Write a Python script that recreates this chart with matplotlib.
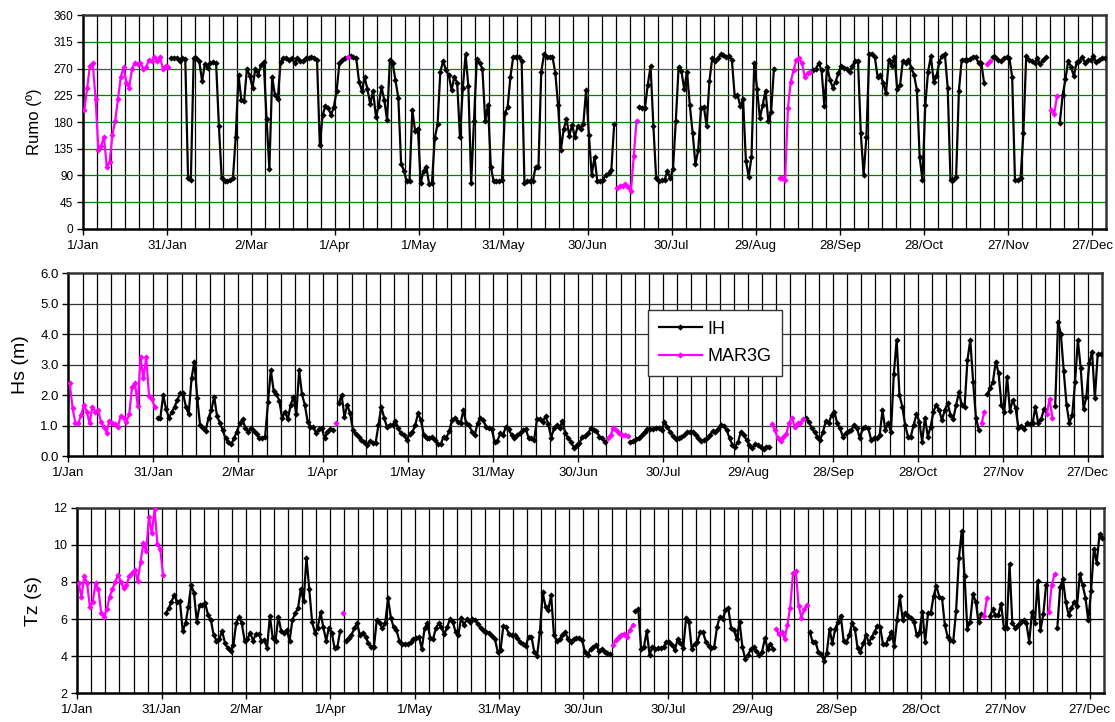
import numpy as np
import matplotlib
matplotlib.use("Agg")
import matplotlib.pyplot as plt
from matplotlib.ticker import FormatStrFormatter

plt.rcParams['font.family'] = ['Liberation Sans', 'DejaVu Sans']

# ---- data: daily values, given as (first day of year, values) runs ----
n_days = 365
tick_days = [0, 30, 60, 90, 120, 150, 180, 210, 240, 270, 300, 330, 360]
tick_labels = ['1/Jan', '31/Jan', '2/Mar', '1/Apr', '1/May', '31/May', '30/Jun',
               '30/Jul', '29/Aug', '28/Sep', '28/Oct', '27/Nov', '27/Dec']

# wave direction (degrees)
rumo_ih = [
    (31, [288, 288, 288, 283, 288, 286, 85, 83, 287, 288, 282, 249, 278, 271, 279, 281,
          279, 173, 85, 80, 80, 83, 85, 155, 259, 217, 215, 270, 258, 238, 270, 260,
          276, 281, 185, 101, 256, 225, 219, 281, 288, 288, 285, 288, 279, 288, 283,
          283, 287, 288, 290, 288, 285, 141, 192, 207, 204, 192, 205, 233, 279, 285, 288]),
    (95, [291, 289, 287, 248, 233, 255, 235, 210, 233, 189, 207, 239, 217, 183, 285, 279,
          250, 221, 110, 98, 80, 81, 200, 165, 169, 77, 98, 105, 75, 77, 153, 176,
          265, 283, 267, 259, 234, 256, 246, 154, 237, 294, 240, 78, 181, 286, 279, 270,
          182, 209, 105, 80, 80, 80, 82, 195, 205, 256, 290, 290, 290, 283, 78, 80,
          80, 80, 105, 105, 265, 294, 290, 290, 290, 263, 208, 133, 168, 185, 157, 175,
          155, 173, 169, 176, 234, 158, 91, 121, 80, 80, 83, 91, 94, 99, 176]),
    (198, [206, 204, 204, 243, 274, 173, 85, 81, 82, 82, 98, 85, 101, 182, 273, 266,
           235, 265, 208, 162, 109, 133, 204, 206, 173, 249, 288, 283, 287, 294, 293, 290,
           291, 285, 224, 226, 207, 218, 115, 88, 121, 280, 235, 186, 209, 233, 182, 197, 270]),
    (260, [268, 270, 279, 267, 207, 273, 251, 238, 248, 262, 275, 271, 269, 264, 275, 283,
           283, 161, 91, 155, 295, 295, 289, 256, 259, 245, 229, 285, 275, 290, 235, 242,
           283, 279, 285, 271, 259, 234, 121, 82, 209, 265, 291, 248, 257, 281, 292, 294,
           237, 82, 82, 88, 233, 285, 285, 285, 286, 290, 290, 279, 279, 245]),
    (324, [290, 290, 284, 282, 287, 289, 287, 256, 82, 82, 85, 161, 291, 285, 283, 279,
           287, 277, 285, 289]),
    (348, [179, 225, 252, 283, 273, 257, 281, 283, 289, 280, 284, 285, 291, 281, 285, 287, 287]),
]
rumo_mar3g = [
    (0, [200, 237, 275, 279, 219, 133, 140, 155, 104, 112, 158, 182, 219, 256, 272, 246,
         238, 270, 280, 277, 279, 270, 272, 284, 282, 289, 283, 289, 270, 274, 272]),
    (94, [290]),
    (190, [69, 72, 73, 75, 71, 64, 122, 182]),
    (248, [85, 85, 82, 203, 248, 267, 284, 288, 279, 256, 263, 265]),
    (322, [277, 282]),
    (345, [200, 194, 224]),
]

# significant wave height (m)
hs_ih = [
    (31, [1.26, 1.26, 2.00, 1.54, 1.26, 1.43, 1.62, 1.84, 2.06, 2.06, 1.62, 1.37, 2.55,
          3.10, 1.92, 1.02, 0.91, 0.83, 1.26, 1.51, 1.95, 1.31, 1.09, 0.85, 0.58, 0.47,
          0.38, 0.58, 0.80, 1.07, 1.20, 0.93, 0.80, 0.91, 0.83, 0.71, 0.60, 0.60, 0.64,
          1.76, 2.82, 2.14, 2.03, 1.81, 1.24, 1.46, 1.20, 1.68, 1.95, 1.37, 2.82, 2.03,
          1.68, 1.13, 0.96, 0.96, 0.74, 0.89, 0.91, 0.58, 0.80, 0.89, 0.85]),
    (95, [1.73, 2.00, 1.29, 1.68, 1.40, 0.85, 0.72, 0.64, 0.53, 0.47, 0.36, 0.49, 0.42,
          0.42, 1.02, 1.62, 1.26, 0.96, 1.02, 1.02, 1.16, 0.91, 0.74, 0.69, 0.53, 0.72,
          0.78, 1.02, 1.40, 1.18, 0.69, 0.58, 0.58, 0.64, 0.53, 0.38, 0.38, 0.64, 0.60,
          0.82, 1.18, 1.26, 1.13, 1.07, 1.51, 1.07, 1.02, 0.80, 0.69, 1.07, 1.26, 1.18,
          0.96, 0.91, 0.89, 0.47, 0.49, 0.74, 0.69, 0.96, 0.89, 0.69, 0.60, 0.69, 0.74,
          0.85, 0.89, 0.60, 0.58, 0.53, 1.22, 1.22, 1.13, 1.31, 1.04, 0.60, 0.91, 1.02,
          0.91, 1.16, 0.74, 0.60, 0.47, 0.27, 0.36, 0.42, 0.64, 0.67, 0.74, 0.91, 0.85,
          0.82, 0.64, 0.60, 0.47]),
    (198, [0.47, 0.49, 0.55, 0.60, 0.69, 0.80, 0.89, 0.89, 0.88, 0.93, 0.91, 0.85, 1.13,
           0.94, 0.80, 0.66, 0.56, 0.58, 0.61, 0.69, 0.78, 0.80, 0.80, 0.69, 0.58, 0.50,
           0.51, 0.58, 0.69, 0.82, 0.80, 0.89, 1.02, 1.00, 0.85, 0.58, 0.36, 0.31, 0.47,
           0.80, 0.69, 0.53, 0.36, 0.25, 0.38, 0.36, 0.28, 0.22, 0.31, 0.31]),
    (260, [1.24, 1.13, 0.91, 0.78, 0.64, 0.53, 0.80, 1.15, 1.07, 1.35, 1.46, 1.07, 0.91,
           0.64, 0.74, 0.82, 0.85, 1.02, 0.91, 0.58, 0.91, 0.94, 0.91, 0.53, 0.58, 0.58,
           0.69, 1.51, 0.85, 1.07, 0.80, 2.69, 3.81, 2.00, 1.62, 1.02, 0.64, 0.64, 1.02,
           1.37, 1.13, 0.47, 1.26, 0.64, 0.96, 1.46, 1.68, 1.51, 1.18, 1.51, 1.73, 1.35,
           1.22, 1.68, 2.09, 1.68, 1.62, 3.15, 3.81, 2.44, 1.26, 0.85]),
    (324, [2.03, 2.22, 2.44, 3.10, 2.72, 1.68, 1.43, 2.61, 1.48, 1.84, 1.57, 0.93, 1.00,
           0.89, 1.07, 1.04, 1.07, 1.62, 1.07, 1.20, 1.54]),
    (348, [1.65, 4.41, 4.00, 2.79, 1.68, 1.07, 1.35, 2.42, 3.81, 2.88, 1.54, 1.95, 3.04,
           3.43, 1.89, 3.35, 3.35]),
]
hs_mar3g = [
    (0, [2.39, 1.57, 1.07, 1.07, 1.35, 1.68, 1.46, 1.07, 1.62, 1.46, 1.51, 1.13, 0.96,
         0.77, 1.16, 1.09, 1.04, 0.96, 1.32, 1.26, 1.13, 1.37, 2.26, 2.41, 1.65, 3.24,
         2.55, 3.24, 1.97, 1.86, 1.62]),
    (94, [1.07]),
    (190, [0.58, 0.69, 0.93, 0.85, 0.75, 0.69, 0.69, 0.66]),
    (248, [1.04, 0.85, 0.58, 0.49, 0.64, 0.71, 1.07, 1.26, 0.96, 1.07, 1.07, 1.22]),
    (322, [1.07, 1.46]),
    (345, [1.37, 1.87, 1.26]),
]

# zero-crossing period (s)
tz_ih = [
    (31, [6.31, 6.58, 6.94, 7.30, 6.90, 6.97, 5.36, 5.77, 6.67, 7.83, 7.42, 5.86, 6.76,
          6.76, 6.85, 6.22, 5.95, 5.14, 4.84, 4.93, 5.36, 4.73, 4.42, 4.28, 4.60, 5.77,
          6.13, 5.77, 4.84, 4.91, 5.27, 4.84, 5.18, 5.18, 4.84, 4.85, 4.46, 6.17, 4.96,
          4.84, 6.13, 5.36, 5.27, 5.41, 4.84, 5.95, 6.31, 6.58, 7.62, 6.97, 9.31, 7.60,
          5.86, 5.27, 5.54, 6.36, 5.55, 4.84, 5.54, 5.27, 4.42, 4.51, 5.38]),
    (95, [4.84, 5.00, 5.14, 5.50, 5.77, 5.14, 5.27, 5.05, 4.69, 4.51, 4.51, 5.95, 5.77,
          5.50, 5.77, 7.12, 6.08, 5.55, 5.41, 4.84, 4.66, 4.66, 4.66, 4.75, 4.93, 5.00,
          5.05, 4.39, 5.50, 5.77, 5.00, 4.93, 5.50, 5.77, 5.55, 5.18, 5.55, 6.00, 5.86,
          5.32, 5.14, 6.08, 5.68, 6.00, 5.86, 6.00, 5.95, 5.72, 5.50, 5.36, 5.30, 5.23,
          5.11, 4.93, 4.24, 4.33, 5.63, 5.55, 5.18, 5.14, 5.14, 4.96, 4.78, 4.66, 4.57,
          5.05, 5.05, 4.24, 4.03, 5.29, 7.44, 6.67, 6.49, 7.30, 5.14, 4.84, 4.93, 5.14,
          5.32, 4.91, 4.75, 4.93, 4.96, 5.00, 4.87, 4.24, 4.06, 4.39, 4.51, 4.60, 4.28,
          4.39, 4.24, 4.15, 4.10]),
    (198, [6.43, 6.54, 4.39, 4.51, 5.36, 4.06, 4.51, 4.39, 4.42, 4.42, 4.51, 4.78, 4.78,
           4.60, 4.33, 4.93, 4.69, 4.46, 6.08, 5.86, 4.39, 4.66, 4.78, 5.29, 5.29, 4.78,
           4.57, 4.42, 4.51, 5.59, 6.13, 6.00, 6.49, 6.58, 5.54, 5.41, 4.93, 5.86, 4.51,
           3.85, 4.06, 4.39, 4.51, 4.28, 4.06, 4.24, 4.96, 4.39, 4.64, 4.39]),
    (260, [5.29, 4.75, 4.78, 4.24, 4.10, 3.76, 4.15, 5.47, 4.69, 5.47, 5.86, 6.18, 4.84,
           4.75, 5.14, 5.77, 5.47, 4.42, 4.24, 4.69, 5.14, 4.73, 5.02, 5.32, 5.63, 5.57,
           4.64, 4.64, 4.96, 5.32, 4.55, 5.95, 7.24, 5.95, 6.31, 6.18, 6.08, 5.86, 5.14,
           5.32, 6.40, 4.78, 6.31, 6.31, 7.24, 7.80, 7.21, 7.12, 5.68, 5.05, 4.87, 4.84,
           6.43, 9.27, 10.74, 8.32, 5.47, 5.86, 7.33, 6.94, 5.82, 6.27]),
    (324, [6.15, 6.52, 6.20, 6.20, 6.83, 5.52, 5.52, 8.98, 5.77, 5.54, 5.68, 5.86, 5.95,
           5.77, 4.78, 6.36, 5.77, 8.05, 5.41, 6.25, 7.83]),
    (348, [5.54, 7.73, 8.14, 6.92, 6.22, 6.58, 6.94, 6.70, 8.41, 7.82, 7.16, 5.93, 7.51,
           9.80, 9.04, 10.57, 10.39]),
]
tz_mar3g = [
    (0, [7.92, 7.21, 8.32, 7.92, 6.63, 6.94, 7.92, 7.60, 6.34, 6.13, 6.52, 7.21, 7.60,
         8.01, 8.37, 8.01, 7.66, 7.83, 8.32, 8.50, 8.64, 8.05, 9.09, 10.08, 9.67, 11.52,
         10.62, 11.93, 10.04, 9.77, 8.37]),
    (94, [6.31]),
    (190, [4.60, 4.87, 5.05, 5.14, 5.18, 5.05, 5.41, 5.68]),
    (248, [5.47, 5.18, 5.29, 4.93, 5.68, 6.61, 8.46, 8.59, 6.72, 6.08, 6.54, 6.76]),
    (322, [6.18, 7.15]),
    (345, [6.38, 7.83, 8.42]),
]


def to_series(segments):
    arr = np.full(n_days, np.nan)
    for start, vals in segments:
        arr[start:start + len(vals)] = vals
    return arr


def draw_panel(ax, ih, mar, ylim, ystep, ylabel, hcolor, ylab_size, ytick_size, fmt):
    x = np.arange(n_days) + 0.5
    ax.plot(x, to_series(ih), color='black', lw=1.6, marker='D', ms=3.2,
            mew=0, label='IH', zorder=4)
    ax.plot(x, to_series(mar), color='#FF00FF', lw=1.6, marker='D', ms=3.2,
            mew=0, label='MAR3G', zorder=4)
    ax.set_xlim(0, 365)
    ax.set_ylim(*ylim)
    ax.set_yticks(np.arange(ylim[0], ylim[1] + ystep / 2, ystep))
    ax.yaxis.set_major_formatter(FormatStrFormatter(fmt))
    # vertical grid every 5 days, horizontal grid at y ticks
    for d in range(5, 365, 5):
        ax.axvline(d, color='black', lw=0.9, zorder=1)
    for yv in np.arange(ylim[0] + ystep, ylim[1], ystep):
        ax.axhline(yv, color=hcolor, lw=0.9, zorder=1)
    ax.set_xticks(tick_days)
    ax.set_xticklabels(tick_labels, fontsize=9.5)
    ax.tick_params(axis='x', direction='out', length=4, width=1, pad=4)
    ax.tick_params(axis='y', direction='out', length=4, width=1, labelsize=ytick_size, pad=3)
    ax.set_ylabel(ylabel, fontsize=ylab_size, labelpad=8)
    for side in ['left', 'bottom']:
        ax.spines[side].set_linewidth(1.8)
        ax.spines[side].set_color('black')
    for side in ['top', 'right']:
        ax.spines[side].set_linewidth(1.8)
        ax.spines[side].set_color('#333333')


fig = plt.figure(figsize=(11.15, 7.22), dpi=100)

ax1 = fig.add_axes([0.0744, 0.683, 0.9176, 0.296])
draw_panel(ax1, rumo_ih, rumo_mar3g, (0, 360), 45, 'Rumo (º)', '#008000', 12, 8.5, '%d')

ax2 = fig.add_axes([0.0613, 0.3684, 0.9270, 0.2531])
draw_panel(ax2, hs_ih, hs_mar3g, (0, 6), 1, 'Hs (m)', '#333333', 14, 9.5, '%.1f')
leg = ax2.legend(loc='upper left', bbox_to_anchor=(0.552, 0.85), fontsize=13,
                 frameon=True, fancybox=False, handlelength=2.4, borderpad=0.6,
                 labelspacing=0.6, handletextpad=0.3)
leg.get_frame().set_edgecolor('#333333')
leg.get_frame().set_linewidth(1.0)
leg.get_frame().set_alpha(1)

ax3 = fig.add_axes([0.0693, 0.0397, 0.9206, 0.2571])
draw_panel(ax3, tz_ih, tz_mar3g, (2, 12), 2, 'Tz (s)', 'black', 14, 9, '%d')

fig.savefig('out.png', dpi=100)
